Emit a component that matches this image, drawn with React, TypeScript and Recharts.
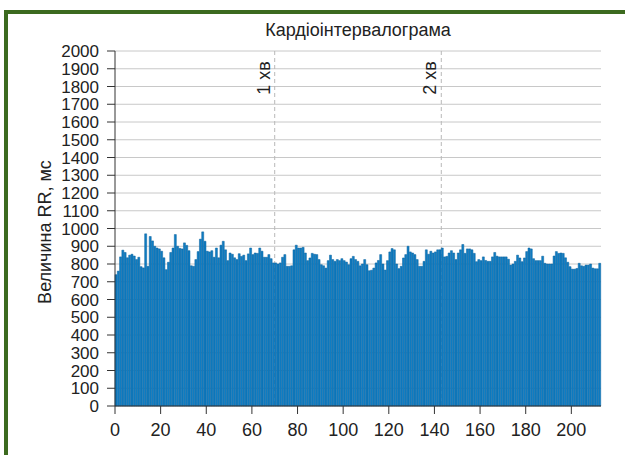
import React from 'react';
import { BarChart, Bar, XAxis, YAxis, CartesianGrid, ReferenceLine, Label } from 'recharts';

const chartTitle = 'Кардіоінтервалограма';
const yAxisTitle = 'Величина RR, мс';

const rrValues = [
  740, 760, 840, 878, 865, 835, 850, 855, 845, 825,
  838, 785, 778, 970, 787, 955, 930, 900, 890, 885,
  872, 835, 768, 810, 865, 890, 966, 900, 888, 885,
  919, 905, 875, 790, 787, 825, 870, 940, 981, 928,
  872, 868, 875, 838, 890, 835, 906, 928, 880, 819,
  862, 855, 835, 825, 858, 843, 850, 819, 857, 890,
  853, 862, 860, 890, 872, 838, 838, 853, 830, 806,
  806, 800, 806, 838, 853, 787, 787, 790, 880, 906,
  890, 890, 894, 862, 819, 834, 860, 855, 853, 825,
  796, 790, 777, 819, 850, 825, 815, 825, 819, 830,
  819, 811, 796, 830, 843, 825, 815, 790, 800, 825,
  796, 762, 765, 777, 806, 820, 853, 800, 766, 819,
  868, 887, 880, 800, 774, 787, 834, 853, 900, 868,
  862, 853, 825, 787, 787, 815, 880, 855, 872, 862,
  868, 880, 880, 890, 840, 843, 862, 875, 862, 825,
  862, 880, 910, 860, 885, 885, 880, 860, 813, 825,
  819, 840, 820, 815, 815, 840, 865, 844, 840, 840,
  840, 840, 827, 794, 800, 815, 850, 834, 813, 834,
  870, 890, 885, 830, 819, 819, 819, 844, 804, 800,
  800, 800, 845, 870, 860, 862, 860, 835, 810, 785,
  771, 771, 775, 804, 790, 787, 794, 794, 800, 777,
  773, 773, 804,
];

const yTicks = [0, 100, 200, 300, 400, 500, 600, 700, 800, 900, 1000, 1100, 1200, 1300, 1400, 1500, 1600, 1700, 1800, 1900, 2000];
const xTicks = [0, 20, 40, 60, 80, 100, 120, 140, 160, 180, 200];
const xDomainMax = 213;
const minuteMarks = [70, 143];
const minuteLabels = ['1 хв', '2 хв'];

const data = rrValues.map((rr, i) => ({ beat: i + 0.5, rr }));

const FONT = '"Liberation Sans", Arial, Helvetica, sans-serif';
const TEXT = '#222';
const FS = 18;

const makeMinuteLabel = (text: string) => (props: any) => {
  const vb = props.viewBox || {};
  const x = (vb.x ?? 0) - 5;
  const y = (vb.y ?? 0) + 27;
  return (
    <text x={x} y={y} transform={`rotate(-90 ${x} ${y})`} textAnchor="middle" fontSize={FS} fill={TEXT} fontFamily={FONT}>
      {text}
    </text>
  );
};

const yLabelContent = () => (
  <text x={45} y={232} transform="rotate(-90 45 232)" textAnchor="middle" dominantBaseline="central" fontSize={FS} fill={TEXT} fontFamily={FONT}>
    {yAxisTitle}
  </text>
);

export default function App() {
  return (
    <div style={{ position: 'fixed', left: 0, top: 0, width: 625, height: 455, overflow: 'hidden', background: '#fff', fontFamily: FONT }}>
      <div style={{ position: 'absolute', left: 4, top: 10, width: 700, height: 520, border: '4px solid #3c6a1f', boxSizing: 'border-box' }} />
      <div style={{ position: 'absolute', left: 115, width: 486, top: 19, textAlign: 'center', fontSize: FS, color: TEXT, lineHeight: '22px' }}>
        {chartTitle}
      </div>
      <BarChart
        width={625}
        height={455}
        data={data}
        margin={{ top: 51, right: 24, left: 35, bottom: 19 }}
        barCategoryGap={0}
        barGap={0}
        style={{ position: 'absolute', left: 0, top: 0 }}
      >
        <CartesianGrid vertical={false} stroke="#c8c8c8" horizontalValues={yTicks} />
        <CartesianGrid horizontal={false} verticalValues={minuteMarks} stroke="#b8b8b8" strokeDasharray="4 3" />
        <XAxis
          dataKey="beat"
          type="number"
          domain={[0, xDomainMax]}
          ticks={xTicks}
          allowDecimals={false}
          height={30}
          tickSize={8}
          tickMargin={9}
          stroke="#333"
          tick={{ fill: TEXT, fontSize: FS, fontFamily: FONT }}
          interval={0}
        />
        <YAxis
          type="number"
          domain={[0, 2000]}
          ticks={yTicks}
          width={80}
          tickSize={8}
          tickMargin={8}
          stroke="#333"
          tick={{ fill: TEXT, fontSize: 17, fontFamily: FONT }}
          interval={0}
        >
          <Label content={yLabelContent} />
        </YAxis>
        <Bar dataKey="rr" fill="#0f7ec4" stroke="#0b619c" strokeWidth={0.5} isAnimationActive={false} />
        {minuteMarks.map((m, i) => (
          <ReferenceLine key={m} x={m} stroke="none" strokeOpacity={0} label={{ content: makeMinuteLabel(minuteLabels[i]) } as any} />
        ))}
      </BarChart>
    </div>
  );
}
